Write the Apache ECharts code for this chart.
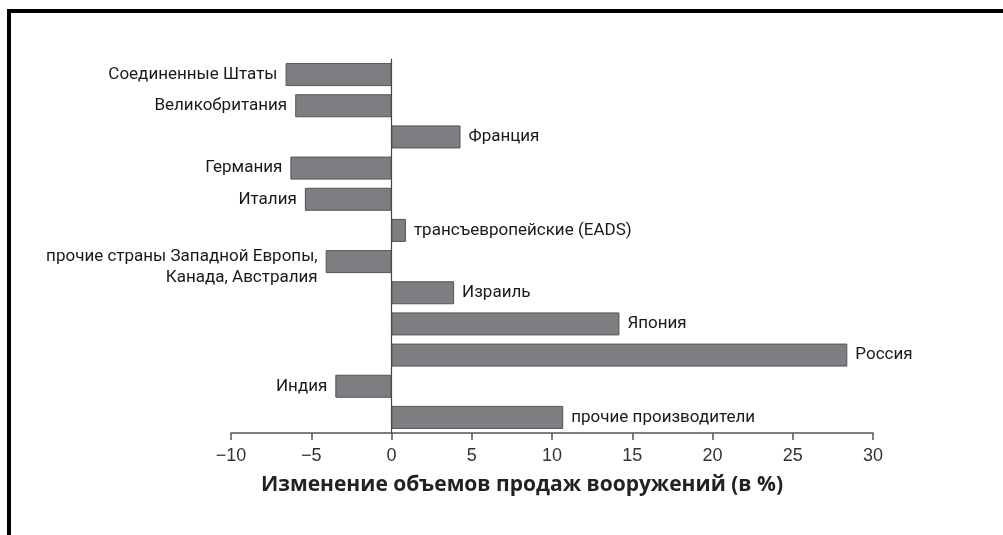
<!DOCTYPE html>
<html>
<head>
<meta charset="utf-8">
<script src="https://cdn.jsdelivr.net/npm/echarts@6/dist/echarts.min.js"></script>
<style>
html,body{margin:0;padding:0;background:#fff;}
#main{width:1003px;height:535px;}
</style>
</head>
<body>
<div id="main"></div>
<script>
const categories = [
  'Соединенные Штаты',
  'Великобритания',
  'Франция',
  'Германия',
  'Италия',
  'трансъевропейские (EADS)',
  'прочие страны Западной Европы,\nКанада, Австралия',
  'Израиль',
  'Япония',
  'Россия',
  'Индия',
  'прочие производители'
];
const values = [-6.6, -6.0, 4.3, -6.3, -5.4, 0.9, -4.1, 3.9, 14.2, 28.4, -3.5, 10.7];
const xTicks = { min: -10, max: 30, interval: 5 };
const xTitle = 'Изменение объемов продаж вооружений (в %)';

const labelFont = 'Roboto, sans-serif';
const chart = echarts.init(document.getElementById('main'), null, { renderer: 'canvas' });

const seriesData = values.map((v, i) => ({
  value: v,
  label: {
    position: v < 0 ? 'left' : 'right',
    align: v < 0 ? 'right' : 'left',
    offset: categories[i].indexOf('\n') >= 0 ? [0, 6] : [0, 0]
  }
}));

chart.setOption({
  animation: false,
  grid: { left: 231, right: 130, top: 59, bottom: 102, containLabel: false },
  xAxis: {
    type: 'value',
    min: xTicks.min, max: xTicks.max, interval: xTicks.interval,
    splitLine: { show: false },
    axisLine: { show: true, onZero: false, lineStyle: { color: '#555', width: 1.5 } },
    axisTick: { show: true, length: 7, lineStyle: { color: '#555', width: 1.5 } },
    axisLabel: {
      color: '#333', fontSize: 18, margin: 14,
      fontFamily: '"Liberation Sans", Arial, sans-serif',
      formatter: v => String(v).replace('-', '−')
    },
    name: xTitle,
    nameLocation: 'middle',
    nameGap: 42,
    nameTextStyle: {
      color: '#222', fontSize: 21, fontWeight: 'bold',
      fontFamily: '"Open Sans", sans-serif',
      padding: [0, 60, 0, 0]
    }
  },
  yAxis: {
    type: 'category',
    data: categories,
    inverse: true,
    axisLine: { show: true, onZero: true, lineStyle: { color: '#444', width: 1.2 } },
    axisTick: { show: false },
    axisLabel: { show: false },
    splitLine: { show: false }
  },
  series: [{
    type: 'bar',
    data: seriesData,
    barWidth: 23,
    itemStyle: { color: '#7e7e82', borderColor: '#555', borderWidth: 1 },
    label: {
      show: true,
      distance: 8,
      formatter: p => categories[p.dataIndex],
      color: '#1a1a1a',
      fontSize: 17,
      lineHeight: 21,
      fontFamily: labelFont
    }
  }],
  graphic: [
    { type: 'rect', shape: { x: 7, y: 9, width: 1000, height: 4 }, style: { fill: '#000' } },
    { type: 'rect', shape: { x: 7, y: 9, width: 4, height: 530 }, style: { fill: '#000' } }
  ]
});
</script>
</body>
</html>
